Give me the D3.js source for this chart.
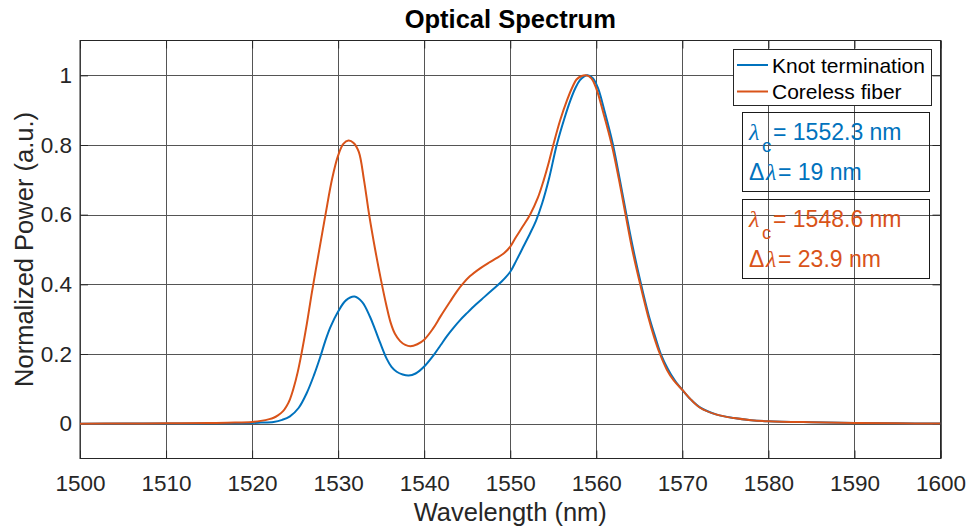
<!DOCTYPE html>
<html>
<head>
<meta charset="utf-8">
<script src="https://cdn.jsdelivr.net/npm/d3@7"></script>
<style>
  html, body { margin: 0; padding: 0; background: #fff; }
  svg { display: block; font-family: "Liberation Sans", Arial, Helvetica, sans-serif; }
</style>
</head>
<body>
<svg id="chart" width="972" height="530"></svg>
<script>
// Knot-terminated sensor spectrum (wavelength in nm, normalized power)
const knotWavelength = [1500, 1510, 1515, 1520, 1521, 1522.5, 1523.5, 1524.4, 1525.4, 1526.35, 1527.2, 1527.9,
  1528.5, 1529.1, 1530, 1530.9, 1531.9, 1532.8, 1533.7, 1534.3, 1534.9, 1535.65, 1536.2, 1536.8, 1537.5, 1538.2,
  1539, 1540, 1541.1, 1541.9, 1542.6, 1543.4, 1544.2, 1545, 1546, 1547, 1548, 1549, 1550, 1550.7, 1551.5, 1552.3,
  1553, 1553.7, 1554.5, 1555.4, 1556.3, 1557, 1557.6, 1558.1, 1558.6, 1559, 1559.6, 1560.2, 1561, 1561.9, 1562.7,
  1563.5, 1564.3, 1565.2, 1566.1, 1566.8, 1567.5, 1568.3, 1569.1, 1570, 1571, 1572.1, 1574, 1576, 1578, 1580,
  1585, 1590, 1595, 1600];
const knotPower = [0, 0.0005, 0.001, 0.002, 0.003, 0.005, 0.011, 0.021, 0.045, 0.088, 0.14, 0.19,
  0.237, 0.277, 0.322, 0.354, 0.365, 0.349, 0.307, 0.27, 0.231, 0.186, 0.163, 0.149, 0.141, 0.138,
  0.144, 0.164, 0.197, 0.225, 0.25, 0.275, 0.298, 0.318, 0.342, 0.364, 0.386, 0.408, 0.436, 0.468, 0.507, 0.546,
  0.583, 0.632, 0.703, 0.8, 0.877, 0.929, 0.965, 0.986, 0.997, 1.0, 0.992, 0.963, 0.893, 0.805, 0.705,
  0.6, 0.5, 0.4, 0.31, 0.253, 0.2, 0.158, 0.125, 0.097, 0.069, 0.046, 0.026, 0.016, 0.01, 0.007,
  0.004, 0.002, 0.001, 0.0005];

// Coreless-fiber sensor spectrum
const corelessWavelength = [1500, 1505, 1510, 1515, 1518, 1520, 1521, 1522, 1522.5, 1523, 1523.6, 1524, 1524.4,
  1524.8, 1525.3, 1525.77, 1526.35, 1526.9, 1527.8, 1528.55, 1529.3, 1530, 1530.6, 1531.2, 1531.8, 1532.4,
  1533, 1533.6, 1534.3, 1535, 1535.6, 1536.1, 1536.6, 1537.2, 1537.8, 1538.4, 1539.2, 1540, 1541, 1541.9, 1543,
  1543.8, 1544.5, 1545.3, 1546.5, 1547.5, 1548.4, 1549.3, 1550, 1550.6, 1551.5, 1552.3, 1553.2, 1553.9, 1554.5,
  1555, 1555.8, 1556.6, 1557.2, 1557.7, 1558.3, 1558.8, 1559.4, 1560, 1560.9, 1561.8, 1562.6, 1563.4, 1564.2,
  1565.1, 1566, 1566.7, 1567.4, 1568.2, 1569, 1570, 1571, 1572.1, 1574, 1576, 1578, 1580, 1585, 1590, 1595, 1600];
const corelessPower = [0, 0.0005, 0.001, 0.002, 0.003, 0.005, 0.008, 0.013, 0.017, 0.024, 0.036, 0.05, 0.07,
  0.1, 0.148, 0.205, 0.285, 0.37, 0.498, 0.603, 0.703, 0.77, 0.803, 0.813, 0.806, 0.78,
  0.7, 0.6, 0.5, 0.41, 0.34, 0.29, 0.258, 0.237, 0.226, 0.222, 0.228, 0.241, 0.272, 0.308, 0.35,
  0.38, 0.402, 0.423, 0.446, 0.462, 0.475, 0.49, 0.508, 0.533, 0.568, 0.6, 0.648, 0.7, 0.752,
  0.8, 0.871, 0.929, 0.965, 0.988, 0.998, 1.0, 0.992, 0.962, 0.885, 0.8, 0.705, 0.6, 0.497,
  0.4, 0.31, 0.25, 0.2, 0.155, 0.124, 0.097, 0.069, 0.045, 0.026, 0.016, 0.01, 0.007, 0.004, 0.002, 0.001, 0.0005];

const seriesNames = ["Knot termination", "Coreless fiber"];
const seriesColors = ["#0072BD", "#D95319"];

// Centre wavelength and bandwidth of each spectrum
const centerWavelengths = ["1552.3", "1548.6"];
const bandwidths = ["19", "23.9"];

const xTicks = [1500, 1510, 1520, 1530, 1540, 1550, 1560, 1570, 1580, 1590, 1600];
const yTicks = [0, 0.2, 0.4, 0.6, 0.8, 1];
const xDomain = [1500, 1600];
const yDomain = [-0.1, 1.1];

const svg = d3.select("#chart");
const plot = { left: 80, right: 940.5, top: 40.5, bottom: 458.5 };

const x = d3.scaleLinear().domain(xDomain).range([plot.left, plot.right]);
const y = d3.scaleLinear().domain(yDomain).range([plot.bottom, plot.top]);

const axisColor = "#262626";
const gridColor = "#555";

// Grid
const grid = svg.append("g");
grid.selectAll("line.gx").data(xTicks).join("line")
  .attr("x1", d => Math.round(x(d)) + 0.5).attr("x2", d => Math.round(x(d)) + 0.5)
  .attr("y1", plot.top).attr("y2", plot.bottom)
  .attr("stroke", gridColor).attr("stroke-width", 1);
grid.selectAll("line.gy").data(yTicks).join("line")
  .attr("y1", d => Math.round(y(d)) + 0.5).attr("y2", d => Math.round(y(d)) + 0.5)
  .attr("x1", plot.left).attr("x2", plot.right)
  .attr("stroke", gridColor).attr("stroke-width", 1);

// Axes with inward ticks on all four sides
const tickLen = 8;
const axisBottom = d3.axisBottom(x).tickValues(xTicks).tickSize(-tickLen).tickPadding(17).tickFormat(d3.format("d"));
const axisTop = d3.axisTop(x).tickValues(xTicks).tickSize(-tickLen).tickFormat("");
const axisLeft = d3.axisLeft(y).tickValues(yTicks).tickSize(-tickLen).tickPadding(8)
  .tickFormat(d => d === 0 ? "0" : d === 1 ? "1" : d3.format(".1f")(d));
const axisRight = d3.axisRight(y).tickValues(yTicks).tickSize(-tickLen).tickFormat("");

function styleAxis(g) {
  g.select(".domain").remove();
  g.selectAll(".tick line").attr("stroke", axisColor).attr("stroke-width", 1);
  g.selectAll(".tick text").attr("fill", axisColor).attr("font-size", 22.5)
    .attr("font-family", "'Liberation Sans', Arial, sans-serif");
}
svg.append("g").attr("transform", `translate(0,${plot.bottom})`).call(axisBottom).call(styleAxis);
svg.append("g").attr("transform", `translate(0,${plot.top})`).call(axisTop).call(styleAxis);
svg.append("g").attr("transform", `translate(${plot.left},0)`).call(axisLeft).call(styleAxis);
svg.append("g").attr("transform", `translate(${plot.right},0)`).call(axisRight).call(styleAxis);

// Box
svg.append("rect")
  .attr("x", plot.left).attr("y", plot.top)
  .attr("width", plot.right - plot.left).attr("height", plot.bottom - plot.top)
  .attr("fill", "none").attr("stroke", axisColor).attr("stroke-width", 1);

// Spectra
const line = d3.line().x(d => x(d[0])).y(d => y(d[1])).curve(d3.curveCatmullRom.alpha(0.5));
const series = [
  d3.zip(knotWavelength, knotPower),
  d3.zip(corelessWavelength, corelessPower)
];
svg.append("clipPath").attr("id", "plotClip").append("rect")
  .attr("x", plot.left).attr("y", plot.top)
  .attr("width", plot.right - plot.left).attr("height", plot.bottom - plot.top);
svg.append("g").attr("clip-path", "url(#plotClip)")
  .selectAll("path").data(series).join("path")
  .attr("d", line)
  .attr("fill", "none")
  .attr("stroke", (d, i) => seriesColors[i])
  .attr("stroke-width", 2)
  .attr("stroke-linejoin", "round");

// Title and axis labels
svg.append("text").attr("x", (plot.left + plot.right) / 2).attr("y", 28)
  .attr("text-anchor", "middle").attr("font-weight", "bold").attr("font-size", 25.5)
  .attr("fill", "#000").text("Optical Spectrum");
svg.append("text").attr("x", (plot.left + plot.right) / 2).attr("y", 521)
  .attr("text-anchor", "middle").attr("font-size", 25.5).attr("fill", axisColor)
  .text("Wavelength (nm)");
svg.append("text")
  .attr("transform", `translate(33,${(plot.top + plot.bottom) / 2}) rotate(-90)`)
  .attr("text-anchor", "middle").attr("font-size", 25.5).attr("fill", axisColor)
  .text("Normalized Power (a.u.)");

// Legend
const legend = svg.append("g");
legend.append("rect").attr("x", 733.5).attr("y", 49.5).attr("width", 198).attr("height", 56)
  .attr("fill", "#fff").attr("stroke", axisColor).attr("stroke-width", 1);
seriesNames.forEach((name, i) => {
  const cy = 65 + i * 26.5;
  legend.append("line").attr("x1", 737).attr("x2", 768).attr("y1", cy).attr("y2", cy)
    .attr("stroke", seriesColors[i]).attr("stroke-width", 2);
  legend.append("text").attr("x", 772).attr("y", cy + 7.5).attr("font-size", 21)
    .attr("fill", "#000").text(name);
});

// Annotation boxes with centre wavelength and bandwidth
centerWavelengths.forEach((cw, i) => {
  const top = 112.5 + i * 87;
  const color = seriesColors[i];
  const g = svg.append("g");
  g.append("rect").attr("x", 742.5).attr("y", top).attr("width", 187).attr("height", 79)
    .attr("fill", "none").attr("stroke", "#1a1a1a").attr("stroke-width", 1);
  const b1 = top + 27.5;
  const t1 = g.append("text").attr("y", b1).attr("fill", color).attr("font-size", 23);
  t1.append("tspan").attr("x", 749).attr("font-family", "'Liberation Serif', serif")
    .attr("font-style", "italic").attr("font-size", 24).text("λ");
  t1.append("tspan").attr("x", 762).attr("y", b1 + 12).attr("font-size", 18.5).text("c");
  t1.append("tspan").attr("x", 773).attr("y", b1).text("= " + cw + " nm");
  const b2 = top + 67.5;
  const t2 = g.append("text").attr("y", b2).attr("fill", color).attr("font-size", 23);
  t2.append("tspan").attr("x", 749).text("Δ");
  t2.append("tspan").attr("x", 766).attr("font-family", "'Liberation Serif', serif")
    .attr("font-style", "italic").attr("font-size", 24).text("λ");
  t2.append("tspan").attr("x", 778).text("= " + bandwidths[i] + " nm");
});
</script>
</body>
</html>
